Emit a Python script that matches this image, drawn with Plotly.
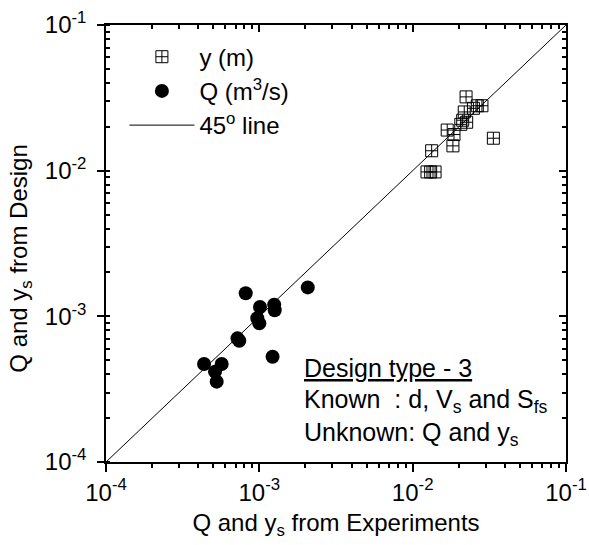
import plotly.graph_objects as go

# Data
y_exp = [0.0223, 0.0264, 0.0283, 0.0249, 0.0217, 0.0212, 0.0225, 0.0206, 0.0168,
         0.0186, 0.0183, 0.0133, 0.0124, 0.0131, 0.0140, 0.0336]
y_des = [0.0321, 0.0279, 0.0279, 0.0268, 0.0253, 0.0222, 0.0215, 0.0208, 0.0190,
         0.0177, 0.0148, 0.0137, 0.0098, 0.0098, 0.0098, 0.0167]

q_exp = [8.15e-4, 2.07e-3, 1.01e-3, 1.25e-3, 1.26e-3, 9.7e-4, 1.0e-3, 7.2e-4, 7.4e-4,
         1.22e-3, 4.36e-4, 5.68e-4, 5.14e-4, 5.27e-4]
q_des = [1.44e-3, 1.58e-3, 1.16e-3, 1.20e-3, 1.10e-3, 9.7e-4, 8.95e-4, 7.06e-4, 6.8e-4,
         5.28e-4, 4.71e-4, 4.71e-4, 4.17e-4, 3.56e-4]

line_x = [1e-4, 1e-1]
line_y = [1e-4, 1e-1]

tick_vals = [1e-4, 1e-3, 1e-2, 1e-1]
tick_text = ["10<sup>-4</sup>", "10<sup>-3</sup>", "10<sup>-2</sup>", "10<sup>-1</sup>"]

FONT = "Liberation Sans, Arial, sans-serif"

fig = go.Figure()
fig.add_trace(go.Scatter(
    x=y_exp, y=y_des, mode="markers", name="y (m)",
    marker=dict(symbol="square-cross-open", size=12, color="black",
                line=dict(width=1, color="black"))))
fig.add_trace(go.Scatter(
    x=q_exp, y=q_des, mode="markers", name="Q (m<sup>3</sup>/s)",
    marker=dict(symbol="circle", size=14, color="black")))
fig.add_trace(go.Scatter(
    x=line_x, y=line_y, mode="lines", name="45<sup>o</sup> line",
    line=dict(color="black", width=1)))
# invisible trace for the mirrored axes
fig.add_trace(go.Scatter(x=line_x, y=line_y, xaxis="x2", yaxis="y2", mode="lines",
                         line=dict(width=0), showlegend=False, hoverinfo="skip"))

rng = [-4, -1]
common = dict(type="log", range=rng, showgrid=False, zeroline=False, automargin=False,
              showline=True, linecolor="black", linewidth=1.5,
              tickvals=tick_vals, ticktext=tick_text, tickcolor="black")

fig.update_layout(
    template="none",
    width=589, height=545,
    margin=dict(l=106, r=23, t=25, b=83),
    paper_bgcolor="white", plot_bgcolor="white",
    font=dict(family=FONT, size=24, color="black"),
    showlegend=True,
    legend=dict(x=0.04, y=0.978, xanchor="left", yanchor="top",
                bgcolor="rgba(0,0,0,0)", font=dict(size=24), itemwidth=65,
                tracegroupgap=0),
    xaxis=dict(**common, ticks="outside", ticklen=8, tickwidth=1.5,
               tickfont=dict(size=24),
               minor=dict(ticks="outside", ticklen=4, dtick="D1", tickcolor="black"),
               title=dict(text="Q and y<sub>s</sub> from Experiments", font=dict(size=24),
                          standoff=10)),
    yaxis=dict(**common, ticks="outside", ticklen=7, tickwidth=1.5,
               tickfont=dict(size=24), ticklabelstandoff=6,
               minor=dict(ticks="inside", ticklen=4, dtick="D1", tickcolor="black")),
    xaxis2=dict(**common, overlaying="x", side="top", anchor="y",
                ticks="inside", ticklen=7, tickwidth=1.5, showticklabels=False,
                minor=dict(ticks="inside", ticklen=4, dtick="D1", tickcolor="black")),
    yaxis2=dict(**common, overlaying="y", side="right", anchor="x",
                ticks="inside", ticklen=7, tickwidth=1.5, showticklabels=False,
                minor=dict(ticks="inside", ticklen=4, dtick="D1", tickcolor="black")),
)

# y-axis title
fig.add_annotation(xref="paper", yref="paper", x=-0.185, y=0.465, xanchor="center",
                   yanchor="middle", showarrow=False, textangle=-90,
                   text="Q and y<sub>s</sub> from Design", font=dict(size=24))

ann_x = 0.425
fig.add_annotation(xref="paper", yref="paper", x=ann_x, y=0.215, xanchor="left",
                   yanchor="middle", showarrow=False, align="left",
                   text="<u>Design type - 3</u>", font=dict(size=25))
fig.add_annotation(xref="paper", yref="paper", x=ann_x, y=0.14, xanchor="left",
                   yanchor="middle", showarrow=False, align="left",
                   text="Known  : d, V<sub>s</sub> and S<sub>fs</sub>", font=dict(size=25))
fig.add_annotation(xref="paper", yref="paper", x=ann_x, y=0.065, xanchor="left",
                   yanchor="middle", showarrow=False, align="left",
                   text="Unknown: Q and y<sub>s</sub>", font=dict(size=25))

fig.write_html("out.html")
